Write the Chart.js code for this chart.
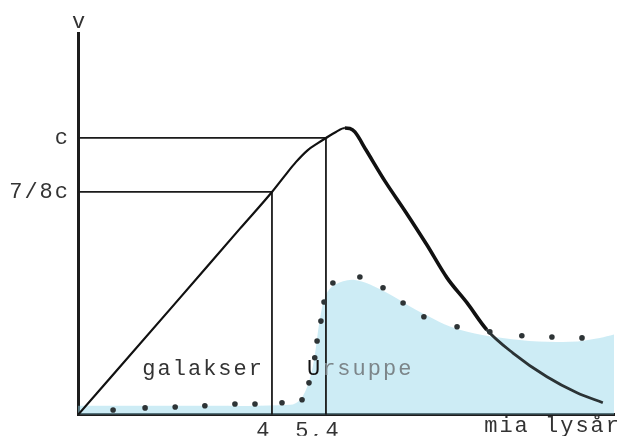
<!DOCTYPE html>
<html>
<head>
<meta charset="utf-8">
<script src="https://cdn.jsdelivr.net/npm/chart.js@4"></script>
<style>
  html, body { margin: 0; padding: 0; background: #fff; }
  canvas { display: block; }
</style>
</head>
<body>
<canvas id="speedChart" width="624" height="436"></canvas>
<script>
// axis ranges (mia lysår / fraction of c)
const xRange = [-1.03, 12.87];
const yRange = [0.359, 1.243];

// tick marks
const xTicks = [4, 5.4];
const xTickLabels = ["4", "5,4"];
const yTicks = [0.875, 1];
const yTickLabels = ["7/8c", "c"];

// v against distance, the thick curve
const speedX = [-1.03, 1.49, 3.17, 4, 4.31, 4.62, 4.93, 5.19, 5.4, 5.66, 5.89, 6.02, 6.15, 6.44, 6.93, 7.45, 8.02, 8.54, 9.06, 9.57, 10.25, 11.13, 11.91, 12.58];
const speedY = [0.359, 0.617, 0.79, 0.875, 0.91, 0.944, 0.972, 0.988, 1, 1.014, 1.023, 1.022, 1.014, 0.972, 0.9, 0.831, 0.752, 0.676, 0.618, 0.556, 0.502, 0.447, 0.41, 0.387];

// dotted curve
const dotsX = [-0.12, 0.71, 1.49, 2.26, 3.04, 3.56, 4.26, 4.78, 4.96, 5.11, 5.17, 5.27, 5.35, 5.58, 6.28, 6.88, 7.4, 7.94, 8.8, 9.65, 10.48, 11.26, 12.04];
const dotsY = [0.37, 0.375, 0.377, 0.38, 0.384, 0.384, 0.387, 0.394, 0.433, 0.491, 0.53, 0.576, 0.62, 0.664, 0.678, 0.653, 0.618, 0.586, 0.563, 0.551, 0.542, 0.539, 0.537];

// "ursuppe" band
const bandX = [-1.03, 2.13, 4.47, 4.73, 4.93, 5.09, 5.24, 5.4, 5.63, 6.15, 6.93, 7.84, 8.87, 10.43, 11.73, 12.5, 12.87];
const bandY = [0.38, 0.38, 0.382, 0.394, 0.428, 0.486, 0.579, 0.637, 0.66, 0.671, 0.644, 0.597, 0.556, 0.532, 0.528, 0.537, 0.545];

const FONT = "'Liberation Mono', 'DejaVu Sans Mono', monospace";
const pts = (xs, ys) => xs.map((x, i) => ({ x: x, y: ys[i] }));

// guide lines from the y axis to the curve and down to the x axis
const guideAt = (i) => [
  { x: xRange[0], y: yTicks[i] },
  { x: xTicks[i], y: yTicks[i] },
  { x: xTicks[i], y: yRange[0] }
];

// wide typewriter spacing for all text on the canvas
const spacing = {
  id: "spacing",
  beforeDraw(chart) { chart.ctx.letterSpacing = "2px"; }
};

const softFill = {
  id: "softFill",
  beforeDatasetDraw(chart, args) {
    if (chart.data.datasets[args.index].soft) {
      chart.ctx.save();
      chart.ctx.filter = "blur(3px)";
    }
  },
  afterDatasetDraw(chart, args) {
    if (chart.data.datasets[args.index].soft) chart.ctx.restore();
  }
};

const labels = {
  id: "labels",
  afterDraw(chart) {
    const ctx = chart.ctx;
    const area = chart.chartArea;
    const xs = chart.scales.x;
    ctx.save();
    ctx.font = "22px " + FONT;
    ctx.letterSpacing = "2px";
    ctx.fillStyle = "#333";
    ctx.textBaseline = "alphabetic";

    ctx.textAlign = "left";
    ctx.fillText("v", area.left - 6, area.top - 5);

    ctx.textAlign = "right";
    ctx.fillText("galakser", xs.getPixelForValue(xTicks[0]) - 8, area.bottom - 40);
    ctx.fillText("mia lysår", 621, 432);

    ctx.textAlign = "left";
    const ux = xs.getPixelForValue(xTicks[1]) - 19;
    ctx.fillStyle = "#111";
    ctx.fillText("U", ux, area.bottom - 40);
    ctx.fillStyle = "#7c8589";
    ctx.fillText("rsuppe", ux + ctx.measureText("U").width, area.bottom - 40);
    ctx.restore();
  }
};

new Chart(document.getElementById("speedChart"), {
  type: "line",
  data: {
    datasets: [
      {
        data: pts(speedX, speedY),
        borderColor: "#111",
        borderWidth: 2.2,
        cubicInterpolationMode: "monotone",
        pointRadius: 0,
        order: 0,
        segment: {
          borderWidth: (c) => c.p0.parsed.x < 5.8 ? 2.2 : (c.p0.parsed.x < 9.5 ? 3.6 : 2.8),
          borderColor: (c) => c.p0.parsed.x < 9.5 ? "#111" : "#2b3335"
        }
      },
      {
        data: pts(dotsX, dotsY),
        showLine: false,
        pointRadius: 2.8,
        pointBackgroundColor: "#2e3436",
        pointBorderWidth: 0,
        order: 1
      },
      {
        data: guideAt(0),
        borderColor: "#1a1a1a",
        borderWidth: 1.8,
        tension: 0,
        pointRadius: 0,
        order: 2
      },
      {
        data: guideAt(1),
        borderColor: "#1a1a1a",
        borderWidth: 1.8,
        tension: 0,
        pointRadius: 0,
        order: 2
      },
      {
        data: pts(bandX, bandY),
        soft: true,
        fill: "start",
        backgroundColor: "rgba(150, 215, 234, 0.48)",
        borderWidth: 0,
        tension: 0.35,
        pointRadius: 0,
        order: 3
      }
    ]
  },
  options: {
    responsive: false,
    animation: false,
    layout: { padding: { top: 33, right: 10, left: 0, bottom: 0 } },
    plugins: { legend: { display: false }, tooltip: { enabled: false } },
    scales: {
      x: {
        type: "linear",
        min: xRange[0],
        max: xRange[1],
        afterBuildTicks: (s) => { s.ticks = xTicks.map((v) => ({ value: v })); },
        afterFit: (s) => { s.height = 21; },
        ticks: {
          autoSkip: false,
          maxRotation: 0,
          padding: 3,
          labelOffset: -8,
          color: "#333",
          font: { family: FONT, size: 22 },
          callback: (v, i) => xTickLabels[i]
        },
        grid: { display: false, drawTicks: false },
        border: { display: true, color: "#1c1c1c", width: 3 }
      },
      y: {
        type: "linear",
        min: yRange[0],
        max: yRange[1],
        afterBuildTicks: (s) => { s.ticks = yTicks.map((v) => ({ value: v })); },
        afterFit: (s) => { s.width = 78; },
        ticks: {
          autoSkip: false,
          padding: 8,
          color: "#333",
          font: { family: FONT, size: 22 },
          callback: (v, i) => yTickLabels[i]
        },
        grid: { display: false, drawTicks: false },
        border: { display: true, color: "#1c1c1c", width: 3 }
      }
    }
  },
  plugins: [spacing, softFill, labels]
});
</script>
</body>
</html>
